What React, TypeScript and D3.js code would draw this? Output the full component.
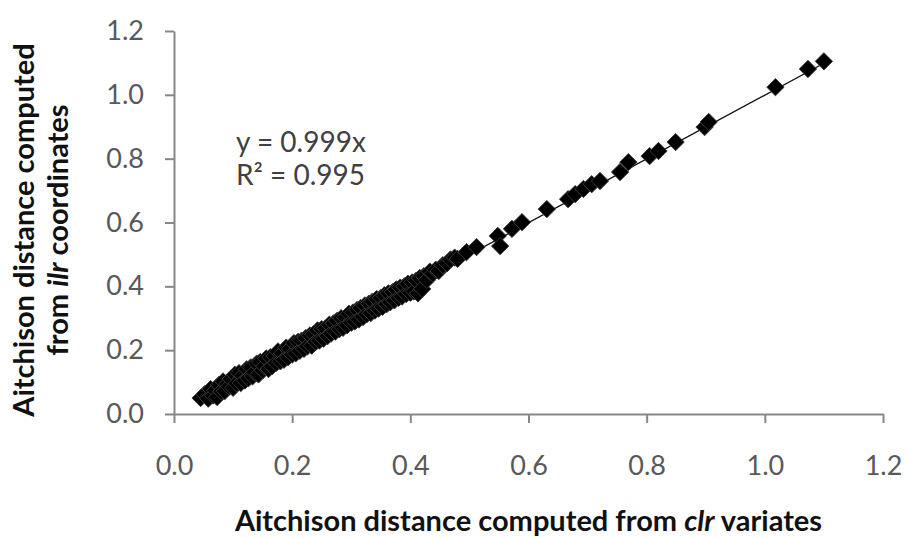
import React, { useEffect, useRef } from 'react';
import * as d3 from 'd3';

// Aitchison distance from clr variates (x) vs from ilr coordinates (y)
const clrDistance = [
  0.045, 0.052, 0.058, 0.062, 0.066, 0.070, 0.073, 0.076, 0.080, 0.083,
  0.086, 0.090, 0.093, 0.096, 0.100, 0.103, 0.106, 0.110, 0.113, 0.116,
  0.120, 0.123, 0.126, 0.130, 0.133, 0.136, 0.140, 0.143, 0.146, 0.150,
  0.153, 0.156, 0.160, 0.163, 0.166, 0.170, 0.173, 0.176, 0.180, 0.183,
  0.186, 0.190, 0.193, 0.196, 0.200, 0.203, 0.206, 0.210, 0.213, 0.216,
  0.220, 0.223, 0.226, 0.230, 0.233, 0.236, 0.240, 0.243, 0.246, 0.250,
  0.253, 0.256, 0.260, 0.263, 0.266, 0.270, 0.273, 0.276, 0.280, 0.283,
  0.286, 0.290, 0.293, 0.296, 0.300, 0.303, 0.306, 0.310, 0.313, 0.316,
  0.320, 0.323, 0.326, 0.330, 0.333, 0.336, 0.340, 0.343, 0.346, 0.350,
  0.353, 0.356, 0.360, 0.363, 0.366, 0.370, 0.373, 0.376, 0.380, 0.383,
  0.386, 0.390, 0.393, 0.396, 0.400, 0.403, 0.406, 0.410, 0.413, 0.416,
  0.420, 0.423, 0.428, 0.433, 0.438, 0.443, 0.448, 0.455, 0.462, 0.468,
  0.475, 0.480, 0.495, 0.512, 0.548, 0.552, 0.572, 0.589, 0.631, 0.667,
  0.679, 0.693, 0.707, 0.721, 0.755, 0.769, 0.805, 0.820, 0.849, 0.898,
  0.905, 1.018, 1.073, 1.100,
];
const ilrDistance = [
  0.050, 0.062, 0.048, 0.078, 0.058, 0.074, 0.053, 0.091, 0.071, 0.102,
  0.072, 0.094, 0.086, 0.110, 0.082, 0.123, 0.096, 0.128, 0.097, 0.120,
  0.105, 0.140, 0.112, 0.146, 0.118, 0.131, 0.158, 0.124, 0.163, 0.137,
  0.149, 0.174, 0.141, 0.178, 0.150, 0.182, 0.160, 0.196, 0.165, 0.190,
  0.170, 0.208, 0.178, 0.204, 0.186, 0.222, 0.190, 0.226, 0.198, 0.230,
  0.204, 0.238, 0.212, 0.246, 0.214, 0.250, 0.226, 0.262, 0.230, 0.266,
  0.236, 0.268, 0.244, 0.280, 0.252, 0.284, 0.258, 0.292, 0.266, 0.300,
  0.270, 0.302, 0.278, 0.314, 0.286, 0.318, 0.290, 0.326, 0.296, 0.332,
  0.304, 0.340, 0.312, 0.346, 0.316, 0.352, 0.324, 0.360, 0.330, 0.364,
  0.336, 0.372, 0.344, 0.378, 0.350, 0.382, 0.356, 0.390, 0.364, 0.396,
  0.368, 0.400, 0.376, 0.408, 0.380, 0.412, 0.384, 0.418, 0.378, 0.426,
  0.392, 0.432, 0.420, 0.446, 0.440, 0.452, 0.448, 0.466, 0.472, 0.484,
  0.490, 0.486, 0.507, 0.523, 0.558, 0.526, 0.580, 0.601, 0.642, 0.673,
  0.689, 0.705, 0.720, 0.730, 0.758, 0.789, 0.808, 0.824, 0.852, 0.899,
  0.915, 1.024, 1.081, 1.105,
];
const tickValues = [0, 0.2, 0.4, 0.6, 0.8, 1.0, 1.2];
const fitSlope = 0.999;
const fitLabels = ['y = 0.999x', 'R\u00b2 = 0.995'];

const FONT = 'Lato, "Open Sans", sans-serif';

const App = () => {
  const svgRef = useRef<SVGSVGElement>(null);

  useEffect(() => {
    const width = 907;
    const height = 538;
    const margin = { top: 31, right: 24, bottom: 124, left: 174 };

    const svg = d3.select(svgRef.current);
    svg.selectAll('*').remove();
    svg.attr('width', width).attr('height', height);

    const x = d3.scaleLinear().domain([0, 1.2]).range([margin.left, width - margin.right]);
    const y = d3.scaleLinear().domain([0, 1.2]).range([height - margin.bottom, margin.top]);

    // x axis
    const xAxis = svg.append('g')
      .attr('transform', `translate(0,${y(0)})`)
      .call(d3.axisBottom(x).tickValues(tickValues).tickFormat(d3.format('.1f')).tickSize(9).tickSizeOuter(0));
    xAxis.selectAll('text')
      .attr('dy', null)
      .attr('y', 61)
      .attr('fill', '#595959')
      .style('font-family', FONT)
      .style('font-size', '27px');

    // y axis
    const yAxis = svg.append('g')
      .attr('transform', `translate(${x(0)},0)`)
      .call(d3.axisLeft(y).tickValues(tickValues).tickFormat(d3.format('.1f')).tickSize(9).tickSizeOuter(0).tickPadding(21));
    yAxis.selectAll('text')
      .attr('fill', '#595959')
      .style('font-family', FONT)
      .style('font-size', '27px');

    [xAxis, yAxis].forEach(g => {
      g.select('.domain').attr('stroke', '#878787').attr('stroke-width', 2);
      g.selectAll('.tick line').attr('stroke', '#878787').attr('stroke-width', 2);
    });

    // trend line
    const xMin = d3.min(clrDistance);
    const xMax = d3.max(clrDistance);
    svg.append('line')
      .attr('x1', x(xMin))
      .attr('y1', y(xMin * fitSlope))
      .attr('x2', x(xMax))
      .attr('y2', y(xMax * fitSlope))
      .attr('stroke', '#111')
      .attr('stroke-width', 1.3);

    // points
    const diamond = d3.symbol().type(d3.symbolSquare).size(150);
    svg.append('g')
      .selectAll('path')
      .data(clrDistance.map((d, i) => [d, ilrDistance[i]]))
      .enter().append('path')
      .attr('d', diamond)
      .attr('transform', d => `translate(${x(d[0])},${y(d[1])}) rotate(45)`)
      .attr('fill', '#000')
      .attr('stroke', '#3a3a3a')
      .attr('stroke-width', 0.9);

    // equation
    svg.append('g')
      .selectAll('text')
      .data(fitLabels)
      .enter().append('text')
      .attr('x', 236)
      .attr('y', (d, i) => 152 + i * 33)
      .attr('fill', '#404040')
      .style('font-family', FONT)
      .style('font-size', '28px')
      .text(d => d);

    // x title
    const xt = svg.append('text')
      .attr('x', (x(0) + x(1.2)) / 2)
      .attr('y', 531)
      .attr('text-anchor', 'middle')
      .attr('fill', '#111')
      .style('font-family', FONT)
      .style('font-size', '29px')
      .style('font-weight', 'bold');
    xt.append('tspan').text('Aitchison distance computed from ');
    xt.append('tspan').style('font-style', 'italic').text('clr');
    xt.append('tspan').text(' variates');

    // y title (two lines)
    const yt = svg.append('text')
      .attr('transform', 'translate(0,230) rotate(-90)')
      .attr('text-anchor', 'middle')
      .attr('fill', '#111')
      .style('font-family', FONT)
      .style('font-size', '29px')
      .style('font-weight', 'bold');
    yt.append('tspan').attr('x', 0).attr('y', 34).text('Aitchison distance computed');
    const line2 = yt.append('tspan').attr('x', 0).attr('y', 68);
    line2.append('tspan').text('from ');
    line2.append('tspan').style('font-style', 'italic').text('ilr');
    line2.append('tspan').text(' coordinates');
  }, []);

  return (
    <svg ref={svgRef} style={{ position: 'absolute', left: 0, top: 0, background: '#fff' }}></svg>
  );
};

export default App;
